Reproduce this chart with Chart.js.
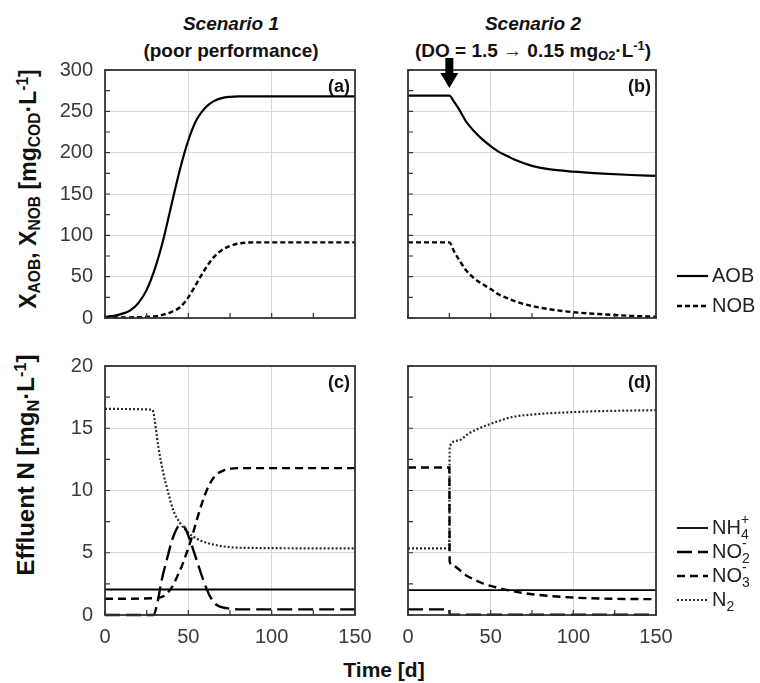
<!DOCTYPE html>
<html>
<head>
<meta charset="utf-8">
<script src="https://cdn.jsdelivr.net/npm/chart.js@4.4.1/dist/chart.umd.min.js"></script>
<style>
  body { margin: 0; background: #fff; }
  #fig { position: relative; width: 760px; height: 683px; overflow: hidden;
         font-family: "Liberation Sans", Arial, Helvetica, sans-serif; color: #111; }
  #fig canvas { position: absolute; }
  .t { position: absolute; transform: translate(-50%, -50%); font-weight: bold; font-size: 19px;
       white-space: nowrap; line-height: 1; }
  .v { transform: translate(-50%, -50%) rotate(-90deg); font-size: 23px; }
  .t sub { font-size: 0.68em; vertical-align: -0.28em; line-height: 0; }
  .t sup { font-size: 0.68em; vertical-align: 0.5em; line-height: 0; }
</style>
</head>
<body>
<div id="fig">
  <div class="t" style="left:231px;top:23px;font-style:italic">Scenario 1</div>
  <div class="t" style="left:231px;top:50px">(poor performance)</div>
  <div class="t" style="left:533px;top:23px;font-style:italic">Scenario 2</div>
  <div class="t" style="left:533px;top:50px">(DO = 1.5 &rarr; 0.15 mg<sub>O2</sub>&middot;L<sup>-1</sup>)</div>
  <div class="t v" style="left:28px;top:189px">X<sub>AOB</sub>, X<sub>NOB</sub> [mg<sub>COD</sub>&middot;L<sup>-1</sup>]</div>
  <div class="t v" style="left:26px;top:465px;font-size:24px">Effluent N [mg<sub>N</sub>&middot;L<sup>-1</sup>]</div>
  <div class="t" style="left:384px;top:669px;font-size:21px">Time [d]</div>

  <canvas id="pa" width="330" height="275" style="left:45px;top:55px"></canvas>
  <canvas id="pb" width="362" height="285" style="left:398px;top:45px"></canvas>
  <canvas id="pc" width="330" height="300" style="left:45px;top:356px"></canvas>
  <canvas id="pd" width="362" height="300" style="left:398px;top:356px"></canvas>
</div>
<script>
const FONT = '"Liberation Sans", Arial, Helvetica, sans-serif';
Chart.defaults.font.family = FONT;

// (a) scenario 1, biomass [mgCOD/L]
const daysAobA = [0, 5, 10, 15, 20, 25, 30, 35, 40, 45, 50, 55, 60, 65, 70, 75, 80, 90, 150];
const aobA     = [1.5, 2.5, 5, 9, 18, 34, 60, 95, 138, 180, 215, 240, 254, 262, 266, 267.5, 268, 268, 268];
const daysNobA = [0, 20, 30, 35, 40, 45, 50, 55, 60, 65, 70, 75, 80, 90, 150];
const nobA     = [0.5, 1, 2, 4, 7.5, 13, 25, 42, 59, 73, 82, 87, 90, 91.5, 91.5];

// (b) scenario 2, biomass
const daysAobB = [0, 25, 28, 31, 35, 40, 45, 50, 55, 60, 65, 75, 85, 100, 115, 135, 150];
const aobB     = [269, 269, 261, 252, 238, 226, 216, 208, 201, 196, 191, 184, 180, 177, 175, 173, 172];
const daysNobB = [0, 25, 28, 31, 35, 40, 45, 50, 55, 60, 65, 75, 85, 100, 115, 135, 150];
const nobB     = [91.5, 91.5, 80, 70, 58, 48, 41, 35, 28.5, 24, 20, 14.5, 10.8, 7, 4.8, 2.6, 1.5];

// (c) scenario 1, effluent N [mgN/L]
const daysNh4C = [0, 150];
const nh4C     = [2.05, 2.05];
const daysNo2C = [0, 29, 31, 34, 37, 41, 45, 48, 51, 55, 59, 63, 67, 73, 80, 150];
const no2C     = [0, 0, 0.7, 2.8, 4.4, 6.3, 7.2, 7.0, 6.0, 4.4, 2.8, 1.5, 0.8, 0.55, 0.45, 0.45];
const daysNo3C = [0, 30, 35, 40, 43, 46, 49, 52, 55, 58, 61, 64, 67, 71, 75, 85, 150];
const no3C     = [1.3, 1.35, 1.5, 2.2, 3.0, 3.9, 5.0, 6.2, 7.6, 8.9, 10.0, 10.8, 11.3, 11.6, 11.75, 11.8, 11.8];
const daysN2C  = [0, 28, 29, 32, 35, 38, 41, 45, 50, 57, 67, 81, 150];
const n2C      = [16.55, 16.5, 16.3, 13.5, 11.4, 9.8, 8.4, 7.4, 6.6, 6.0, 5.6, 5.4, 5.35];

// (d) scenario 2, effluent N
const daysNh4D = [0, 150];
const nh4D     = [2.0, 2.0];
const daysNo2D = [0, 25, 25.2, 150];
const no2D     = [0.45, 0.45, 0.02, 0.02];
const daysNo3D = [0, 25, 25.2, 27, 30, 35, 40, 45, 51, 60, 75, 100, 125, 150];
const no3D     = [11.85, 11.85, 4.3, 4.0, 3.75, 3.2, 2.85, 2.55, 2.3, 2.0, 1.67, 1.4, 1.3, 1.27];
const daysN2D  = [0, 25, 25.2, 30, 37, 43, 51, 63, 75, 100, 125, 150];
const n2D      = [5.35, 5.35, 13.5, 14.0, 14.6, 15.0, 15.4, 15.9, 16.1, 16.3, 16.4, 16.45];

const dosingDay = 25;   // DO step change in scenario 2

const styles = {
  aob: {borderColor: '#000', borderWidth: 2.2, borderDash: []},
  nob: {borderColor: '#000', borderWidth: 2.4, borderDash: [5, 3]},
  nh4: {borderColor: '#000', borderWidth: 1.8, borderDash: []},
  no2: {borderColor: '#000', borderWidth: 2.4, borderDash: [15, 6]},
  no3: {borderColor: '#000', borderWidth: 2.4, borderDash: [8, 5]},
  n2:  {borderColor: '#2a2a2a', borderWidth: 2.2, borderDash: [2, 2]},
};

function series(days, vals, style, legend) {
  return {
    data: days.map((d, i) => ({x: d, y: vals[i]})),
    ...style,
    legendText: legend,
    pointRadius: 0,
    fill: false,
    cubicInterpolationMode: 'monotone',
    clip: 4,
  };
}

// text runs: [text, 0 normal | 1 sub | 2 sup stacked over sub]
function drawRich(ctx, parts, x, y) {
  let subX = x;
  for (const [t, k] of parts) {
    ctx.font = (k ? '14px ' : '20px ') + FONT;
    if (k === 2) {
      ctx.fillText(t, subX, y - 8);
    } else {
      subX = x;
      ctx.fillText(t, x, y + (k === 1 ? 7 : 0));
      x += ctx.measureText(t).width;
    }
  }
}

// keep the plot box exactly where layout.padding puts it
function noOverflow(s) {
  s.paddingTop = 0; s.paddingBottom = 0; s.paddingLeft = 0; s.paddingRight = 0;
}

function makePanel(id, cfg) {
  const deco = {
    id: 'deco',
    afterDatasetsDraw(chart) {
      const {ctx, chartArea: a, scales} = chart;
      ctx.save();
      ctx.strokeStyle = '#333';
      ctx.lineWidth = 1.2;
      ctx.beginPath();
      for (const t of scales.x.ticks) {
        const px = scales.x.getPixelForValue(t.value);
        ctx.moveTo(px, a.bottom); ctx.lineTo(px, a.bottom - 5);
      }
      for (const t of scales.y.ticks) {
        const py = scales.y.getPixelForValue(t.value);
        ctx.moveTo(a.left, py); ctx.lineTo(a.left + 5, py);
      }
      ctx.stroke();
      ctx.lineWidth = 1.8;
      ctx.strokeRect(a.left, a.top, a.right - a.left, a.bottom - a.top);

      ctx.fillStyle = '#111';
      ctx.font = 'bold 18px ' + FONT;
      ctx.textAlign = 'right';
      ctx.textBaseline = 'middle';
      ctx.fillText(cfg.letter, a.right - 5, a.top + 17);

      if (cfg.arrowDay !== undefined) {
        const px = scales.x.getPixelForValue(cfg.arrowDay);
        ctx.fillStyle = '#000';
        ctx.beginPath();
        ctx.moveTo(px - 4, a.top - 12);
        ctx.lineTo(px + 4, a.top - 12);
        ctx.lineTo(px + 4, a.top + 3);
        ctx.lineTo(px + 9, a.top + 3);
        ctx.lineTo(px, a.top + 18);
        ctx.lineTo(px - 9, a.top + 3);
        ctx.lineTo(px - 4, a.top + 3);
        ctx.closePath();
        ctx.fill();
      }

      if (cfg.legendRows) {
        ctx.textAlign = 'left';
        ctx.fillStyle = '#222';
        chart.data.datasets.forEach((ds, i) => {
          const y = a.bottom - cfg.legendRows[i];
          const x0 = a.right + 21;
          ctx.strokeStyle = ds.borderColor;
          ctx.lineWidth = ds.borderWidth;
          ctx.setLineDash(ds.borderDash);
          ctx.beginPath();
          ctx.moveTo(x0, y); ctx.lineTo(x0 + 31, y);
          ctx.stroke();
          ctx.setLineDash([]);
          drawRich(ctx, ds.legendText, x0 + 35, y);
        });
      }
      ctx.restore();
    }
  };

  const major = cfg.yStep * 2;
  return new Chart(document.getElementById(id), {
    type: 'line',
    data: {datasets: cfg.datasets},
    options: {
      responsive: false,
      animation: false,
      layout: {padding: cfg.padding},
      plugins: {legend: {display: false}, tooltip: {enabled: false}},
      scales: {
        x: {
          type: 'linear', min: 0, max: 150,
          grid: {
            color: (c) => (c.tick && c.tick.value % 50 === 0 && c.tick.value > 0 && c.tick.value < 150) ? '#d6d6d6' : 'rgba(0,0,0,0)',
            drawTicks: false,
          },
          border: {display: false},
          ticks: {
            stepSize: 25, autoSkip: false, maxRotation: 0, padding: 10,
            color: '#3a3a3a', font: {size: 20},
            callback: (v) => (cfg.showX && v % 50 === 0) ? v : '',
          },
          afterFit: (s) => { s.height = cfg.xHeight; noOverflow(s); },
        },
        y: {
          min: 0, max: cfg.yMax,
          grid: {
            color: (c) => (c.tick && c.tick.value % major === 0 && c.tick.value > 0 && c.tick.value < cfg.yMax) ? '#d6d6d6' : 'rgba(0,0,0,0)',
            drawTicks: false,
          },
          border: {display: false},
          ticks: {
            stepSize: cfg.yStep, autoSkip: false, padding: 12,
            color: '#3a3a3a', font: {size: 20},
            callback: (v) => (cfg.showY && v % major === 0) ? v : '',
          },
          afterFit: (s) => { s.width = cfg.yWidth; noOverflow(s); },
        },
      },
    },
    plugins: [deco],
  });
}

makePanel('pa', {
  letter: '(a)', yMax: 300, yStep: 25, showX: false, showY: true,
  xHeight: 12, yWidth: 60, padding: {top: 15, right: 20, left: 0, bottom: 0},
  datasets: [
    series(daysAobA, aobA, styles.aob, [['AOB', 0]]),
    series(daysNobA, nobA, styles.nob, [['NOB', 0]]),
  ],
});

makePanel('pb', {
  letter: '(b)', yMax: 300, yStep: 25, showX: false, showY: false,
  xHeight: 12, yWidth: 10, padding: {top: 25, right: 104, left: 0, bottom: 0},
  arrowDay: dosingDay, legendRows: [42, 12],
  datasets: [
    series(daysAobB, aobB, styles.aob, [['AOB', 0]]),
    series(daysNobB, nobB, styles.nob, [['NOB', 0]]),
  ],
});

makePanel('pc', {
  letter: '(c)', yMax: 20, yStep: 2.5, showX: true, showY: true,
  xHeight: 41, yWidth: 60, padding: {top: 10, right: 20, left: 0, bottom: 0},
  datasets: [
    series(daysNh4C, nh4C, styles.nh4, [['NH', 0], ['4', 1], ['+', 2]]),
    series(daysNo2C, no2C, styles.no2, [['NO', 0], ['2', 1], ['-', 2]]),
    series(daysNo3C, no3C, styles.no3, [['NO', 0], ['3', 1], ['-', 2]]),
    series(daysN2C, n2C, styles.n2, [['N', 0], ['2', 1]]),
  ],
});

makePanel('pd', {
  letter: '(d)', yMax: 20, yStep: 2.5, showX: true, showY: false,
  xHeight: 41, yWidth: 10, padding: {top: 10, right: 104, left: 0, bottom: 0},
  legendRows: [87, 63, 39, 15],
  datasets: [
    series(daysNh4D, nh4D, styles.nh4, [['NH', 0], ['4', 1], ['+', 2]]),
    series(daysNo2D, no2D, styles.no2, [['NO', 0], ['2', 1], ['-', 2]]),
    series(daysNo3D, no3D, styles.no3, [['NO', 0], ['3', 1], ['-', 2]]),
    series(daysN2D, n2D, styles.n2, [['N', 0], ['2', 1]]),
  ],
});
</script>
</body>
</html>
